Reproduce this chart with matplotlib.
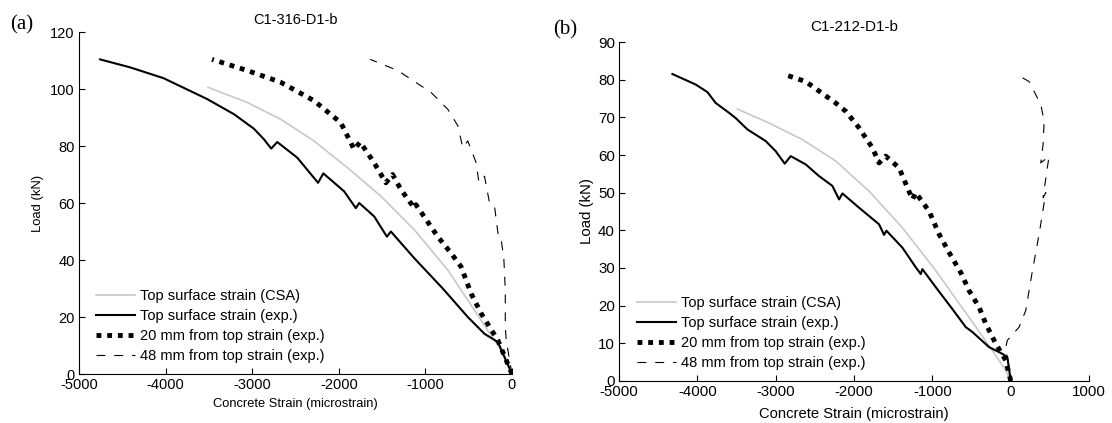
import matplotlib
matplotlib.use("Agg")
import matplotlib.pyplot as plt

plt.rcParams["font.family"] = ["Liberation Sans", "DejaVu Sans"]
plt.rcParams["axes.unicode_minus"] = False

labels = ["Top surface strain (CSA)", "Top surface strain (exp.)",
          "20 mm from top strain (exp.)", "48 mm from top strain (exp.)"]

# ---- (a) C1-316-D1-b ----
a_csa_x = [0, -124, -355, -741, -1127, -1514, -1900, -2286, -2672, -3058, -3510]
a_csa_y = [0, 8.2, 18.8, 36.5, 50.6, 62.4, 72.4, 81.8, 89.4, 95.3, 100.6]

a_top_x = [0, -162, -317, -510, -799, -1127, -1398, -1444, -1591, -1764, -1803,
           -1938, -2178, -2239, -2479, -2710, -2780, -2865, -2981, -3212, -3521,
           -4023, -4409, -4757]
a_top_y = [0, 11.2, 14.1, 20, 30, 40.6, 50, 48.2, 55.3, 60, 58.2,
           64.1, 70.4, 67.1, 75.9, 81.4, 79.1, 82.4, 86.1, 91.2, 96.5,
           103.8, 107.6, 110.4]

a_20_x = [0, -162, -355, -471, -587, -703, -857, -1108, -1127, -1282, -1378, -1456,
          -1591, -1753, -1822, -1977, -2286, -2672, -3058, -3463]
a_20_y = [0, 11.8, 21.2, 28.2, 37.6, 42.4, 48.2, 59.4, 58.2, 64.7, 70, 67.1,
          74.1, 81.4, 78.8, 88.2, 95.9, 102.4, 106.5, 110.4]

a_48_x = [0, -66, -77, -77, -93, -131, -162, -201, -259, -317, -382, -413, -510,
          -568, -625, -741, -934, -1320, -1637]
a_48_y = [0, 11.8, 16.5, 29.4, 40, 48.8, 49.4, 58.8, 60, 69.4, 67.3, 74.1, 81.8,
          79.4, 87.1, 92.9, 98.8, 106.5, 110.4]

# ---- (b) C1-212-D1-b ----
b_csa_x = [0, -64, -234, -532, -957, -1383, -1809, -2234, -2660, -3085, -3489]
b_csa_y = [0, 2.8, 8.1, 16.9, 29.3, 40.7, 50.4, 58.4, 64.1, 68.5, 72.2]

b_top_x = [0, -43, -106, -277, -489, -574, -745, -957, -1128, -1149, -1213, -1383,
           -1587, -1617, -1681, -1936, -2149, -2191, -2277, -2447, -2617, -2809,
           -2885, -3000, -3128, -3362, -3511, -3596, -3766, -3872, -4021, -4319]
b_top_y = [0, 6.3, 7.2, 9, 13, 14.3, 19.1, 24.9, 29.7, 28.4, 30.2, 35.4,
           39.9, 38.8, 41.6, 46, 49.8, 48.2, 51.8, 54.4, 57.5, 59.7,
           57.7, 61, 63.7, 66.8, 69.8, 71.2, 73.8, 76.7, 78.7, 81.5]

b_20_x = [0, -64, -191, -319, -404, -532, -638, -787, -915, -1043, -1213, -1255,
          -1426, -1596, -1681, -1766, -1936, -2106, -2234, -2617, -2906]
b_20_y = [0, 5.5, 9.9, 15.2, 19.6, 24, 28.8, 34.1, 39, 45.1, 50, 48.2,
          56.6, 59.7, 57.9, 61.9, 67.2, 71.6, 73.8, 79.5, 81.5]

b_48_x = [0, -64, -43, 106, 191, 277, 362, 447, 413, 455, 489, 383, 413, 426,
          383, 234, 64]
b_48_y = [0, 9, 10.8, 14.3, 18.7, 29.3, 39, 50, 48.7, 54.9, 59.7, 57.9, 62.8, 69,
          73.4, 79.5, 81.5]

fig = plt.figure(figsize=(11.12, 4.23), dpi=100)
ax1 = fig.add_axes([0.0710, 0.1158, 0.3894, 0.8085])
ax2 = fig.add_axes([0.5567, 0.0993, 0.4227, 0.8014])


def draw(ax, csa, top, d20, d48):
    ax.plot(csa[0], csa[1], color="#c8c8c8", lw=1.2, label=labels[0])
    ax.plot(top[0], top[1], color="black", lw=1.5, label=labels[1])
    ax.plot(d20[0], d20[1], color="black", lw=3.5, dashes=(1, 1.2),
            dash_capstyle="butt", label=labels[2])
    ax.plot(d48[0], d48[1], color="black", lw=0.8, dashes=(8, 8), label=labels[3])
    ax.spines["top"].set_visible(False)
    ax.spines["right"].set_visible(False)
    ax.tick_params(direction="in", length=4, width=0.8)


draw(ax1, (a_csa_x, a_csa_y), (a_top_x, a_top_y), (a_20_x, a_20_y), (a_48_x, a_48_y))
draw(ax2, (b_csa_x, b_csa_y), (b_top_x, b_top_y), (b_20_x, b_20_y), (b_48_x, b_48_y))

ax1.set_xlim(-5000, 0)
ax1.set_ylim(0, 120)
ax1.set_xticks(range(-5000, 1, 1000))
ax1.set_yticks(range(0, 121, 20))
ax1.tick_params(labelsize=10.5, pad=3)
ax1.set_xlabel("Concrete Strain (microstrain)", fontsize=9.3, labelpad=4.5)
ax1.set_ylabel("Load (kN)", fontsize=9.4, labelpad=4.5)
ax1.set_title("C1-316-D1-b", fontsize=10.5, pad=6)

ax2.set_xlim(-5000, 1000)
ax2.set_ylim(0, 90)
ax2.set_xticks(range(-5000, 1001, 1000))
ax2.set_yticks(range(0, 91, 10))
ax2.tick_params(labelsize=10.8, pad=3)
ax2.set_xlabel("Concrete Strain (microstrain)", fontsize=10.6, labelpad=5.5)
ax2.set_ylabel("Load (kN)", fontsize=10.8, labelpad=3)
ax2.set_title("C1-212-D1-b", fontsize=11, pad=8)

for ax, xy in ((ax1, (96 / 1112, 1 - 289 / 423)), (ax2, (637 / 1112, 1 - 296 / 423))):
    ax.legend(loc="upper left", bbox_to_anchor=xy, bbox_transform=fig.transFigure,
              frameon=False, borderpad=0, borderaxespad=0, handlelength=2.7,
              handletextpad=0.35, labelspacing=0.42, fontsize=10.5)

fig.text(22 / 1112, 1 - 25 / 423, "(a)", family="Liberation Serif", fontsize=15,
         ha="center", va="center")
fig.text(565 / 1112, 1 - 30 / 423, "(b)", family="Liberation Serif", fontsize=15,
         ha="center", va="center")

fig.savefig("out.png", dpi=100)
